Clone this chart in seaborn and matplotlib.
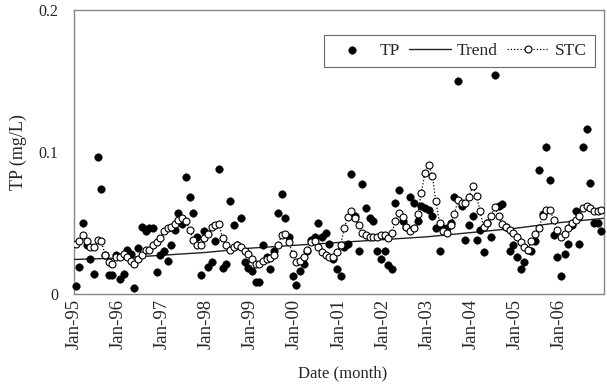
import numpy as np
import pandas as pd
import matplotlib
matplotlib.use("Agg")
import matplotlib.pyplot as plt
import seaborn as sns

# ---------------- data (monthly, Jan-1995 .. Dec-2006) ----------------
tp = [
    0.005, 0.019, 0.050, 0.034, 0.024, 0.014, 0.096, 0.074, 0.027, 0.013, 0.013, 0.027,  # 1995
    0.010, 0.014, 0.031, 0.028, 0.004, 0.032, 0.047, 0.044, 0.046, 0.046, 0.015, 0.027,  # 1996
    0.030, 0.023, 0.034, 0.045, 0.057, 0.049, 0.082, 0.068, 0.057, 0.040, 0.013, 0.044,  # 1997
    0.019, 0.022, 0.037, 0.088, 0.018, 0.021, 0.065, 0.048, 0.034, 0.053, 0.022, 0.018,  # 1998
    0.016, 0.008, 0.008, 0.034, 0.026, 0.017, 0.030, 0.057, 0.070, 0.053, 0.040, 0.012,  # 1999
    0.006, 0.016, 0.021, 0.030, 0.038, 0.040, 0.050, 0.040, 0.043, 0.035, 0.024, 0.017,  # 2000
    0.012, 0.033, 0.035, 0.084, 0.055, 0.030, 0.077, 0.060, 0.053, 0.051, 0.030, 0.024,  # 2001
    0.030, 0.020, 0.017, 0.064, 0.073, 0.051, 0.047, 0.068, 0.064, 0.051, 0.062, 0.060,  # 2002
    0.059, 0.055, 0.046, 0.030, 0.046, 0.046, 0.050, 0.068, 0.150, 0.062, 0.038, 0.048,  # 2003
    0.055, 0.038, 0.045, 0.029, 0.050, 0.040, 0.154, 0.062, 0.063, 0.047, 0.030, 0.034,  # 2004
    0.026, 0.017, 0.022, 0.031, 0.030, 0.037, 0.087, 0.056, 0.103, 0.080, 0.041, 0.026,  # 2005
    0.012, 0.028, 0.035, 0.048, 0.058, 0.035, 0.103, 0.116, 0.078, 0.050, 0.050, 0.044,  # 2006
]
stc = [
    0.035, 0.037, 0.041, 0.037, 0.033, 0.033, 0.038, 0.037, 0.027, 0.022, 0.021, 0.026,  # 1995
    0.026, 0.028, 0.026, 0.023, 0.021, 0.024, 0.027, 0.031, 0.031, 0.034, 0.036, 0.039,  # 1996
    0.044, 0.046, 0.047, 0.049, 0.052, 0.053, 0.051, 0.045, 0.038, 0.034, 0.034, 0.039,  # 1997
    0.042, 0.047, 0.048, 0.049, 0.039, 0.034, 0.031, 0.033, 0.034, 0.033, 0.030, 0.028,  # 1998
    0.024, 0.021, 0.021, 0.023, 0.024, 0.025, 0.027, 0.034, 0.041, 0.042, 0.036, 0.028,  # 1999
    0.022, 0.023, 0.026, 0.031, 0.036, 0.037, 0.033, 0.029, 0.027, 0.026, 0.026, 0.029,  # 2000
    0.034, 0.046, 0.054, 0.058, 0.053, 0.048, 0.043, 0.041, 0.040, 0.040, 0.040, 0.041,  # 2001
    0.041, 0.039, 0.043, 0.051, 0.057, 0.054, 0.047, 0.044, 0.046, 0.056, 0.071, 0.085,  # 2002
    0.091, 0.083, 0.065, 0.050, 0.044, 0.043, 0.048, 0.056, 0.066, 0.064, 0.064, 0.068,  # 2003
    0.076, 0.069, 0.058, 0.047, 0.050, 0.055, 0.061, 0.055, 0.049, 0.047, 0.045, 0.043,  # 2004
    0.040, 0.036, 0.033, 0.031, 0.037, 0.042, 0.046, 0.055, 0.059, 0.059, 0.052, 0.045,  # 2005
    0.040, 0.042, 0.046, 0.050, 0.052, 0.055, 0.060, 0.062, 0.060, 0.058, 0.058, 0.059,  # 2006
]
trend_dates = ["1995-01-01", "1996-01-01", "1997-01-01", "1998-01-01", "1999-01-01",
               "2000-01-01", "2001-01-01", "2002-01-01", "2003-01-01", "2004-01-01",
               "2005-01-01", "2006-01-01", "2006-12-31"]
trend_vals = [0.024, 0.025, 0.027, 0.029, 0.032, 0.034, 0.036, 0.038, 0.040,
              0.043, 0.046, 0.050, 0.053]
tick_labels = ["Jan-95", "Jan-96", "Jan-97", "Jan-98", "Jan-99", "Jan-00",
               "Jan-01", "Jan-02", "Jan-03", "Jan-04", "Jan-05", "Jan-06"]
ytick_vals = [0, 0.1, 0.2]
ytick_labels = ["0", "0.1", "0.2"]

dates = pd.date_range("1995-01-01", periods=len(tp), freq="MS") + pd.Timedelta(days=14)
df = pd.DataFrame({"date": dates, "TP": tp, "STC": stc})
df_trend = pd.DataFrame({"date": pd.to_datetime(trend_dates), "Trend": trend_vals})

# ---------------- style ----------------
sns.set_theme(style="white")
plt.rcParams["font.family"] = ["Liberation Serif", "DejaVu Serif"]

W, H = 607, 388
fig = plt.figure(figsize=(W / 100, H / 100), dpi=100)
L, R, T, B = 74, 603.5, 10, 293.5
ax = fig.add_axes([L / W, 1 - B / H, (R - L) / W, (B - T) / H])

sns.scatterplot(data=df, x="date", y="TP", ax=ax, color="black", s=30,
                edgecolor="black", linewidth=0.3, label="TP", zorder=4, clip_on=False)
sns.lineplot(data=df_trend, x="date", y="Trend", ax=ax, color="#222222",
             linewidth=1.0, label="Trend", zorder=3)
sns.lineplot(data=df, x="date", y="STC", ax=ax, color="black", linewidth=0.9,
             ls=(0, (1, 1.6)), marker="o", markersize=5, markerfacecolor="white",
             markeredgecolor="black", markeredgewidth=0.8, label="STC", zorder=5)

ax.set_xlim(pd.Timestamp("1995-01-01"), pd.Timestamp("2007-01-01"))
ax.set_ylim(0, 0.2)
ax.set_xticks(pd.date_range("1995-01-01", periods=len(tick_labels), freq="YS"))
ax.set_xticklabels(tick_labels, rotation=90, fontsize=13.5)
ax.set_yticks(ytick_vals)
ax.set_yticklabels(ytick_labels, fontsize=11.5)
ax.tick_params(axis="x", direction="in", length=4, width=0.8, color="#888888", pad=4)
ax.tick_params(axis="y", direction="in", length=4, width=0.8, color="#888888", pad=11)
for sp in ax.spines.values():
    sp.set_color("#888888")
    sp.set_linewidth(1.0)

ax.set_xlabel("Date (month)", fontsize=12, va="center")
ax.xaxis.set_label_coords((343 - L) / (R - L), (B - 373) / (B - T))
ax.set_ylabel("TP (mg/L)", fontsize=13)
ax.yaxis.set_label_coords((27 - L) / (R - L), (B - 152) / (B - T))

leg = ax.legend(loc="upper right", bbox_to_anchor=((595 - L) / (R - L), (B - 35) / (B - T)),
                ncol=3, fontsize=12.5, frameon=True, fancybox=False, borderpad=0.45,
                handlelength=2.4, handletextpad=0.35, columnspacing=0.55, borderaxespad=0)
leg.get_frame().set_edgecolor("#444444")
leg.get_frame().set_linewidth(0.8)

fig.savefig("out.png", dpi=100)
